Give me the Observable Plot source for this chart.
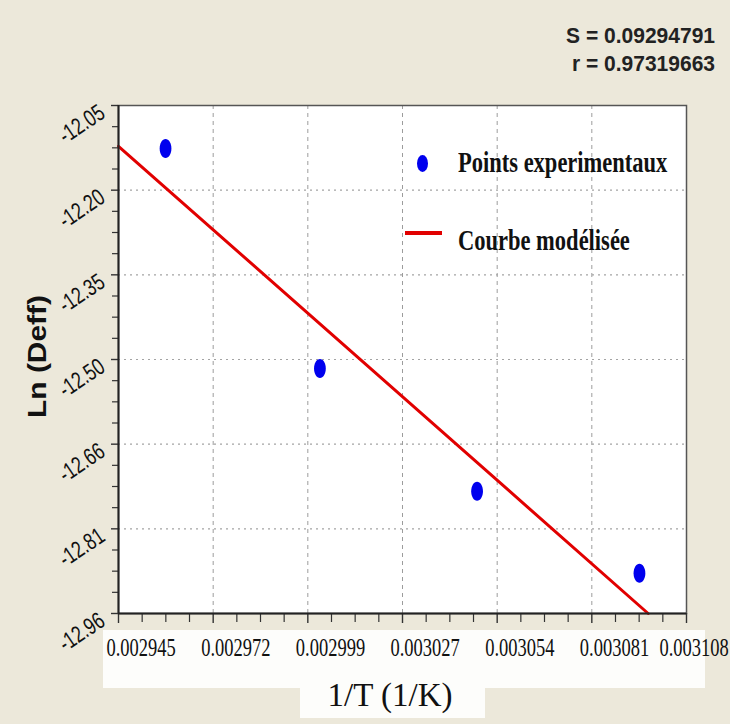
<!DOCTYPE html>
<html>
<head>
<meta charset="utf-8">
<script src="https://cdn.jsdelivr.net/npm/d3@7"></script>
<script src="https://cdn.jsdelivr.net/npm/@observablehq/plot@0.6"></script>
<style>
  html, body { margin: 0; padding: 0; background: #ece8da; }
  #chart { position: relative; width: 730px; height: 724px; overflow: hidden; background: #ece8da; }
  #chart svg { position: absolute; left: 0; top: 0; }
  .txt { position: absolute; white-space: nowrap; line-height: 1; color: #111; }
  .band { position: absolute; background: #fdfdfb; }
</style>
</head>
<body>
<div id="chart">
  <div class="band" style="left:103px;top:630px;width:602px;height:58px"></div>
  <div class="band" style="left:300px;top:688px;width:185px;height:30px"></div>
</div>
<script>
// Arrhenius plot: ln(Deff) against 1/T, with the fitted straight line
const invT = [0.0029585, 0.0030028, 0.0030479, 0.0030945];
const lnDeff = [-12.127, -12.521, -12.741, -12.888];

// end points of the fitted line
const fitX = [0.002945, 0.003097];
const fitY = [-12.123, -12.96];

const xTicks = [0.002945, 0.00297217, 0.00299933, 0.0030265, 0.00305367, 0.00308083, 0.003108];
const xTickLabels = ["0.002945", "0.002972", "0.002999", "0.003027", "0.003054", "0.003081", "0.003108"];
const yTicks = [-12.05, -12.20167, -12.35333, -12.505, -12.65667, -12.80833, -12.96];
const yTickLabels = ["-12.05", "-12.20", "-12.35", "-12.50", "-12.66", "-12.81", "-12.96"];

const statLines = ["S = 0.09294791", "r = 0.97319663"];
const legendLabels = ["Points experimentaux", "Courbe modélisée"];
const xTitle = "1/T (1/K)";
const yTitle = "Ln (Deff)";

const points = invT.map((x, i) => ({x, y: lnDeff[i]}));
const fit = fitX.map((x, i) => ({x, y: fitY[i]}));

// three minor ticks between each pair of major ticks
const minors = (t) => t.slice(1).flatMap((b, i) => [1, 2, 3].map(k => t[i] + (b - t[i]) * k / 4));
const xMinor = minors(xTicks);
const yMinor = minors(yTicks);

// upright ellipse used for the experimental points
const ellipse = {
  draw(ctx, size) {
    const r = Math.sqrt(size / Math.PI), rx = r * 0.62, ry = r, k = 0.5523;
    ctx.moveTo(rx, 0);
    ctx.bezierCurveTo(rx, k * ry, k * rx, ry, 0, ry);
    ctx.bezierCurveTo(-k * rx, ry, -rx, k * ry, -rx, 0);
    ctx.bezierCurveTo(-rx, -k * ry, -k * rx, -ry, 0, -ry);
    ctx.bezierCurveTo(k * rx, -ry, rx, -k * ry, rx, 0);
    ctx.closePath();
  }
};

const xDomain = [xTicks[0], xTicks[xTicks.length - 1]];
const yDomain = [yTicks[yTicks.length - 1], yTicks[0]];

const xLabelFont = {fontFamily: "Liberation Serif, serif", fontSize: 18.5, fill: "#111", textAnchor: "start", lineAnchor: "bottom", dy: 42};

const plot = Plot.plot({
  width: 730,
  height: 724,
  marginLeft: 118,
  marginRight: 44,
  marginTop: 105,
  marginBottom: 111,
  style: {background: "transparent", overflow: "visible"},
  x: {domain: xDomain, label: null},
  y: {domain: yDomain, label: null},
  marks: [
    Plot.frame({fill: "white", stroke: null}),
    Plot.gridX(xTicks.slice(1, -1), {stroke: "#9c9c9c", strokeOpacity: 1, strokeWidth: 1, strokeDasharray: "4,4"}),
    Plot.gridY(yTicks.slice(1, -1), {stroke: "#a4a4a4", strokeOpacity: 1, strokeWidth: 1.2, strokeDasharray: "2,4"}),
    Plot.line(fit, {x: "x", y: "y", stroke: "#e10000", strokeWidth: 3}),
    Plot.dot(points, {x: "x", y: "y", r: 9.5, symbol: ellipse, fill: "#0000ee", stroke: null}),
    Plot.frame({stroke: "#555", strokeWidth: 1.5}),
    Plot.axisX(xTicks, {anchor: "bottom", tickSize: 10, stroke: "#333", strokeWidth: 1.4, tickFormat: () => "", label: null}),
    Plot.axisX(xMinor, {anchor: "bottom", tickSize: 9, stroke: "#333", strokeWidth: 1.2, tickFormat: () => "", label: null}),
    Plot.axisY(yTicks, {anchor: "left", tickSize: 7, stroke: "#333", strokeWidth: 1.4, tickFormat: () => "", label: null}),
    Plot.axisY(yMinor, {anchor: "left", tickSize: 6, stroke: "#333", strokeWidth: 1.2, tickFormat: () => "", label: null}),
    Plot.ruleX([xDomain[0]], {stroke: "#222", strokeWidth: 2}),
    Plot.ruleY([yDomain[0]], {stroke: "#222", strokeWidth: 2}),
    // x tick labels; the last one is pulled left to stay inside the window
    Plot.text(xTicks.slice(0, -1), {x: d => d, frameAnchor: "bottom", text: (d, i) => xTickLabels[i], dx: -12, ...xLabelFont}),
    Plot.text(xTicks.slice(-1), {x: d => d, frameAnchor: "bottom", text: () => xTickLabels[xTickLabels.length - 1], dx: -27, ...xLabelFont}),
    Plot.text(yTicks, {
      y: d => d, frameAnchor: "left", text: (d, i) => yTickLabels[i],
      textAnchor: "end", lineAnchor: "bottom", rotate: -34, dx: -12, dy: 11,
      fontFamily: "Liberation Sans, Arial, sans-serif", fontSize: 17.5, fill: "#111"
    })
  ]
});

const chart = document.getElementById("chart");
chart.appendChild(plot);

// stretch the tick labels vertically, as drawn by the original software
const textGroups = d3.select(plot).selectAll('g[aria-label="text"]');
textGroups.selectAll("text").attr("transform", function() { return this.getAttribute("transform") + " scale(1,1.35)"; });

// text placed with its baseline at (x, baseline)
function label(text, {x, baseline, size, family, weight = "normal", anchor = "start", sx = 1, sy = 1, color = "#111"}) {
  const el = document.createElement("div");
  el.className = "txt";
  el.textContent = text;
  const asc = 0.84 * size;
  el.style.font = `${weight} ${size}px ${family}`;
  el.style.color = color;
  el.style.top = (baseline - asc) + "px";
  el.style.left = x + "px";
  const shift = anchor === "end" ? "translateX(-100%)" : anchor === "middle" ? "translateX(-50%)" : "";
  el.style.transformOrigin = `${anchor === "end" ? "100%" : anchor === "middle" ? "50%" : "0"} ${asc}px`;
  el.style.transform = `${shift} scale(${sx}, ${sy})`;
  chart.appendChild(el);
  return el;
}

// statistics of the fit, top right
const sans = "'Liberation Sans', Arial, sans-serif";
const serif = "'Liberation Serif', 'Times New Roman', serif";
label(statLines[0], {x: 715, baseline: 42, size: 21, family: sans, weight: "bold", anchor: "end", sy: 1.02, color: "#222"});
label(statLines[1], {x: 715, baseline: 70, size: 21, family: sans, weight: "bold", anchor: "end", sy: 1.02, color: "#222"});

// legend inside the plot area
const dotKey = document.createElement("div");
Object.assign(dotKey.style, {position: "absolute", left: "416.5px", top: "154.5px", width: "11px", height: "17px", borderRadius: "50%", background: "#0000ee"});
chart.appendChild(dotKey);
const lineKey = document.createElement("div");
Object.assign(lineKey.style, {position: "absolute", left: "405px", top: "231px", width: "37px", height: "4px", background: "#e10000"});
chart.appendChild(lineKey);
label(legendLabels[0], {x: 458, baseline: 171, size: 22.5, family: serif, weight: "bold", sy: 1.28});
label(legendLabels[1], {x: 458, baseline: 249, size: 22.5, family: serif, weight: "bold", sy: 1.28});

// axis titles
label(xTitle, {x: 390, baseline: 705, size: 33, family: serif, anchor: "middle", sy: 1.0});
const yt = document.createElement("div");
yt.className = "txt";
yt.textContent = yTitle;
Object.assign(yt.style, {
  font: `bold 26px ${sans}`, width: "200px", textAlign: "center",
  left: (37 - 100) + "px", top: (354 - 13) + "px", transform: "rotate(-90deg) scale(1.15, 1)", transformOrigin: "50% 50%"
});
chart.appendChild(yt);
</script>
</body>
</html>
